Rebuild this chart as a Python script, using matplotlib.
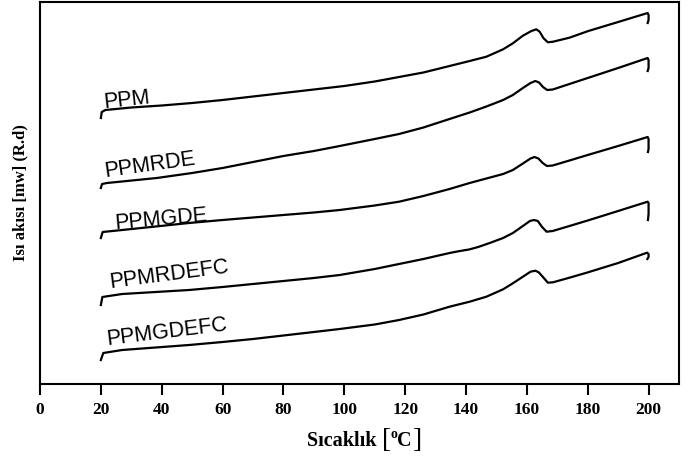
import matplotlib
matplotlib.use("Agg")
import matplotlib.pyplot as plt

# DSC curves, temperature (C) vs heat flow (arbitrary, shifted per sample)
t_ppm = [20, 20.3, 21.5, 30, 40, 50, 60, 70, 80, 90, 100, 110, 118, 126, 134.6,
         141.2, 146.7, 152.2, 155.4, 158.7, 161.5, 163.1, 164.2, 165.5, 166.9,
         168.6, 174, 180, 190, 199.7, 200, 200, 199.7]
q_ppm = [266, 272, 274, 276.5, 278.5, 281, 284, 287.5, 291, 294.5, 298, 302.5, 307,
         311.5, 318, 323, 327.3, 334.7, 340.7, 348.3, 353, 354.7, 352.3, 345.7,
         341.7, 342.3, 346.3, 352.8, 362, 371, 369, 364, 361]

t_rde = [20, 20.4, 22, 38.4, 50, 60, 70, 80, 90, 98.5, 110, 118, 126, 134.6, 141.2,
         146.7, 152.2, 155.4, 158.7, 161.2, 162.8, 164, 165.3, 166.7, 168.5, 174,
         180, 190, 199.7, 200, 200, 199.7]
q_rde = [196, 200, 201, 206, 211, 216, 222, 228, 233, 238, 245, 250, 256.5, 265,
         271.5, 277.5, 284, 289, 296, 301, 303, 301.5, 297, 294, 294.5, 300,
         306, 316, 326, 324, 316, 313]

t_gde = [20, 20.6, 27, 38, 49, 60, 70, 80, 90, 98.5, 110, 118, 126, 134.6, 141.2,
         146.7, 152.2, 155.4, 158.7, 161.2, 162.5, 163.8, 165.2, 166.6, 168.5, 174,
         180, 190, 199.7, 200, 200, 199.8]
q_gde = [146, 152, 154, 157.5, 161, 164, 166.5, 169, 171.5, 174, 178.5, 182.3, 188,
         195, 201, 205.5, 210, 214, 220.5, 225.5, 227, 225.5, 221, 218, 218.5,
         223.5, 229, 238, 247, 245, 235, 232]

t_rdefc = [20, 20.5, 27, 38, 49, 60, 70, 80, 90, 98.5, 110, 118, 126, 134.6, 138,
           141, 144, 147.8, 152.2, 155.4, 158.7, 161, 162.3, 163.6, 165, 166.5,
           168.5, 174, 180, 190, 199.7, 200, 200, 199.8]
q_rdefc = [79, 87, 90, 92, 94, 97, 100, 103, 106, 109, 115, 120, 125, 131, 133,
           134.5, 137, 141, 146, 151, 158, 163, 164, 163, 157, 152.3,
           153, 158, 163.5, 173, 182.3, 181, 170, 164]

t_gdefc = [20, 20.8, 27, 38, 49, 60, 70, 80, 90, 98.5, 110, 118, 126, 134.6, 141.2,
           146.7, 152.2, 155.4, 158.7, 161.2, 162.8, 163.9, 165.2, 166.9, 168.6,
           174, 180, 190, 199.5, 200, 200, 199.6]
q_gdefc = [24, 31, 34, 36.5, 39, 42, 45, 48.5, 52, 55, 59.5, 64, 69.5, 77.3, 82.3,
           87.3, 94.7, 100.7, 107.3, 112.3, 113.3, 111.7, 107.3, 101.3, 101.7,
           106.3, 111.6, 121, 131.3, 130, 127, 125]

names = ["PPM", "PPMRDE", "PPMGDE", "PPMRDEFC", "PPMGDEFC"]
# label anchor (temperature, heat flow) and tilt
label_x = [21.0, 21.3, 24.6, 23.0, 22.0]
label_y = [276, 207, 155, 96, 39]
label_rot = [6, 8, 5, 7.5, 7]

xticks = [0, 20, 40, 60, 80, 100, 120, 140, 160, 180, 200]

W, H = 692, 462
fig = plt.figure(figsize=(W / 100, H / 100), dpi=100)
ax = fig.add_axes([40 / W, 78 / H, 639 / W, 382 / H])

curves = [(t_ppm, q_ppm), (t_rde, q_rde), (t_gde, q_gde),
          (t_rdefc, q_rdefc), (t_gdefc, q_gdefc)]
for t, q in curves:
    ax.plot(t, q, color="black", lw=1.6, solid_joinstyle="round")

for name, lx, ly, rot in zip(names, label_x, label_y, label_rot):
    ax.text(lx, ly, name, fontsize=15.5, family="Liberation Sans",
            rotation=rot, rotation_mode="anchor", ha="left", va="baseline")

ax.set_xlim(0, 210)
ax.set_ylim(0, 382)
ax.set_xticks(xticks)
ax.set_yticks([])
ax.tick_params(axis="x", direction="out", length=8, width=1.5, pad=5)
for lab in ax.get_xticklabels():
    lab.set_fontfamily("Liberation Serif")
    lab.set_fontweight("bold")
    lab.set_fontsize(12.5)
for sp in ax.spines.values():
    sp.set_linewidth(1.5)

ax.set_ylabel("Isı akısı [mw] (R.d)", family="Liberation Serif",
              fontweight="bold", fontsize=12, labelpad=8)

# x label built piece by piece so the brackets can be taller than the text
renderer = fig.canvas.get_renderer()
x_px, base_px = 307, 16
pieces = [("Sıcaklık ", 14.5, "bold", 0),
          ("[", 20, "normal", -1),
          ("o", 10, "bold", 8),
          ("C", 14.5, "bold", 0),
          ("]", 20, "normal", -1)]
for s, size, weight, dy in pieces:
    txt = fig.text(x_px / W, (base_px + dy) / H, s, fontsize=size,
                   fontweight=weight, family="Liberation Serif",
                   ha="left", va="baseline")
    x_px += txt.get_window_extent(renderer).width

fig.savefig("out.png", dpi=100)
